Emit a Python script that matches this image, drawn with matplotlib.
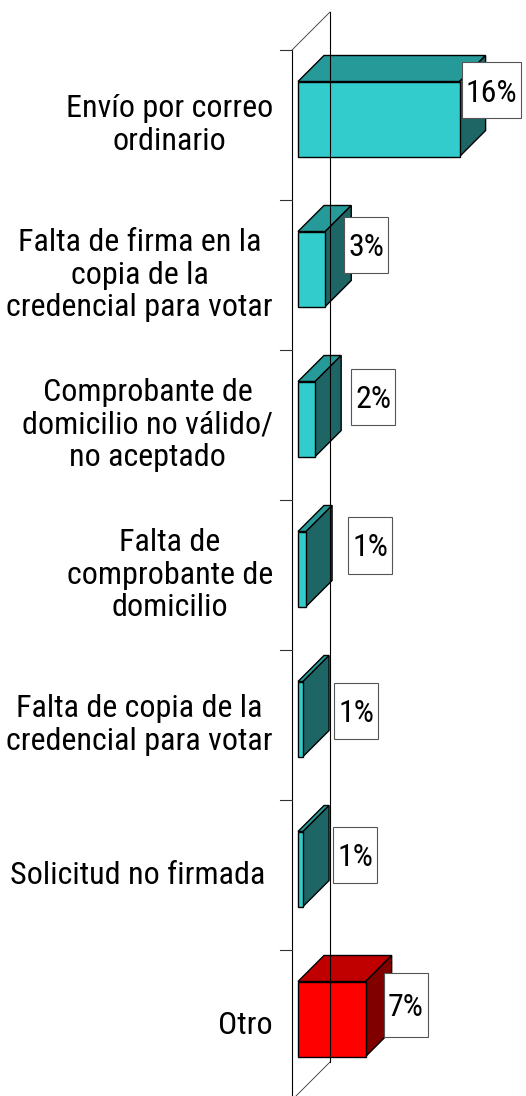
import matplotlib
matplotlib.use("Agg")
import matplotlib.pyplot as plt
from matplotlib import font_manager as fm
from matplotlib.patches import Polygon, Rectangle

# data
categories = ["Envío por correo\nordinario",
              "Falta de firma en la\ncopia de la\ncredencial para votar",
              "Comprobante de\ndomicilio no válido/\nno aceptado",
              "Falta de\ncomprobante de\ndomicilio",
              "Falta de copia de la\ncredencial para votar",
              "Solicitud no firmada ",
              "Otro"]
values = [16.0, 2.7, 1.7, 0.8, 0.5, 0.5, 6.7]
value_labels = ["16%", "3%", "2%", "1%", "1%", "1%", "7%"]

# styling / layout (pixels)
front_c = ["#33CCCC"] * 6 + ["#FF0000"]
top_c = ["#269999"] * 6 + ["#C00000"]
side_c = ["#1E6666"] * 6 + ["#800000"]
lab_dx = [6, 15, 32, 38, 27, 26, 14]
lab_dy = [-3, 2, 4, 2, 18, 12, 12]
box_h = [56, 56, 56, 57, 56, 56, 64]

W, H = 526, 1096
KX = 10.1     # px per percent
KY = 150.0    # px per category
X0 = 292      # front wall x (px)
Z_WALL = 38   # wall depth px
Z1, Z2 = 6, 32  # bar depth range px
HALF = 0.25   # half bar height in categories

# narrow font like Arial Narrow, if there is one
have = set(f.name for f in fm.fontManager.ttflist)
narrow = ["Liberation Sans Narrow", "Arial Narrow", "Roboto Condensed",
          "Archivo Narrow", "PT Sans Narrow", "Fira Sans Condensed",
          "IBM Plex Sans Condensed", "Encode Sans Condensed"]
fam = [f for f in narrow if f in have][:1] + ["Liberation Sans", "DejaVu Sans"]
plt.rcParams["font.family"] = fam

fig = plt.figure(figsize=(W / 100, H / 100), dpi=100)
ax = fig.add_axes([0, 0, 1, 1])
ax.set_xlim(-X0 / KX, (W - X0) / KX)
ax.set_ylim((H - 125) / KY, -125 / KY)
ax.axis("off")

# pick the size so the widest line is about as wide as in the picture
r = fig.canvas.get_renderer()
probe = ax.text(0, 0, "credencial para votar", fontsize=23)
pw = probe.get_window_extent(renderer=r).width
probe.remove()
fs = min(25.0, max(18.0, 23 * 267 / pw))


def P(v, i, z):
    return (v + z / KX, i - z / KY)


n = len(values)
# walls
top_i, bot_i = -0.5, n - 0.5
ax.plot(*zip(P(0, top_i, 0), P(0, bot_i + 0.2, 0)), color="black", lw=0.8)
ax.plot(*zip(P(0, top_i, Z_WALL), P(0, bot_i, Z_WALL)), color="black", lw=0.8)
ax.plot(*zip(P(0, top_i, 0), P(0, top_i, Z_WALL)), color="#333333", lw=0.6)
ax.plot(*zip(P(0, bot_i, 0), P(0, bot_i, Z_WALL)), color="#333333", lw=0.6)
for k in range(n + 1):
    y = top_i + k
    ax.plot([-12 / KX, 0], [y, y], color="#333333", lw=0.8)

for i, v in enumerate(values):
    yt, yb = i - HALF, i + HALF
    top = [P(0, yt, Z1), P(v, yt, Z1), P(v, yt, Z2), P(0, yt, Z2)]
    side = [P(v, yt, Z1), P(v, yb, Z1), P(v, yb, Z2), P(v, yt, Z2)]
    front = [P(0, yt, Z1), P(v, yt, Z1), P(v, yb, Z1), P(0, yb, Z1)]
    for pts, c in ((top, top_c[i]), (side, side_c[i]), (front, front_c[i])):
        ax.add_patch(Polygon(pts, closed=True, facecolor=c, edgecolor="black",
                             lw=1.0, joinstyle="miter"))

    # category label
    ax.text(-19 / KX, i, categories[i], ha="right", va="center",
            multialignment="center", fontsize=fs, linespacing=1.15,
            color="black")

for i, v in enumerate(values):
    cx, cy = P(v, i, Z2)
    cx += lab_dx[i] / KX
    cy += lab_dy[i] / KY
    t = ax.text(cx, cy + 11.5 / KY, value_labels[i], ha="center", va="baseline",
                fontsize=fs, color="black", zorder=5)
    tw = t.get_window_extent(renderer=r).width
    bw = (tw + 8) / KX
    bh = box_h[i] / KY
    ax.add_patch(Rectangle((cx - bw / 2, cy - bh / 2), bw, bh, facecolor="white",
                           edgecolor="#555555", lw=0.8, zorder=4))

fig.savefig("out.png", dpi=100)
